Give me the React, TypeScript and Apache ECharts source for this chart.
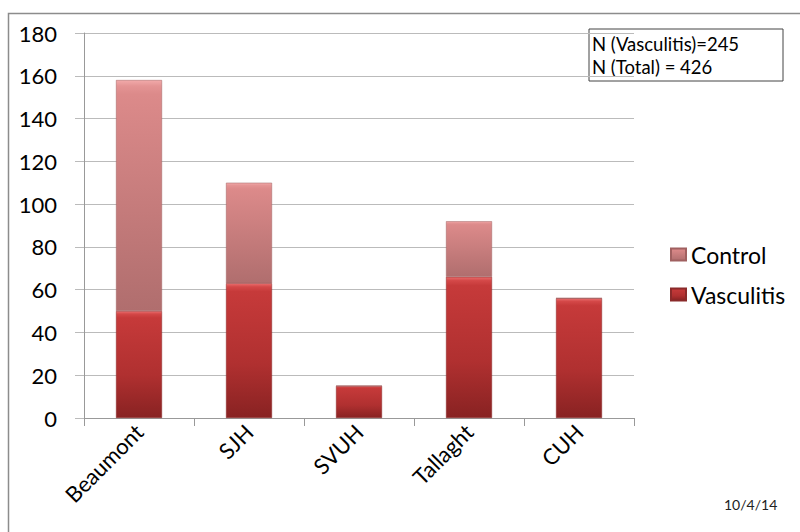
import React, { useEffect, useRef } from "react";
import * as echarts from "echarts";

const categories = ["Beaumont", "SJH", "SVUH", "Tallaght", "CUH"];
const vasculitis = [50, 63, 15, 66, 56];
const control = [108, 47, 0, 26, 0];
const yTicks = { min: 0, max: 180, interval: 20 };
const noteLines = ["N (Vasculitis)=245", "N (Total) = 426"];
const dateLabel = "10/4/14";

const FONT = "Lato, 'Open Sans', sans-serif";

const vascFill = new echarts.graphic.LinearGradient(0, 0, 0, 1, [
  { offset: 0, color: "#ea6e6e" },
  { offset: 0.025, color: "#d44848" },
  { offset: 0.06, color: "#c63a3a" },
  { offset: 0.6, color: "#b03030" },
  { offset: 1, color: "#882222" },
]);
const ctrlFill = new echarts.graphic.LinearGradient(0, 0, 0, 1, [
  { offset: 0, color: "#f2aaaa" },
  { offset: 0.025, color: "#e49494" },
  { offset: 0.06, color: "#dc8a8a" },
  { offset: 1, color: "#b06e6e" },
]);

export default function App() {
  const ref = useRef<HTMLDivElement>(null);
  useEffect(() => {
    if (!ref.current) return;
    const chart = echarts.init(ref.current, null, { renderer: "svg" });
    chart.setOption({
      animation: false,
      backgroundColor: "#ffffff",
      grid: { left: 84, right: 166, top: 33, bottom: 114, containLabel: false },
      legend: {
        data: ["Control", "Vasculitis"],
        orient: "vertical",
        left: 665,
        top: 238,
        itemWidth: 15,
        itemHeight: 12,
        itemGap: 17,
        icon: "rect",
        textStyle: { fontFamily: FONT, fontSize: 23, color: "#000" },
      },
      xAxis: {
        type: "category",
        data: categories,
        axisLine: { lineStyle: { color: "#999", width: 1 } },
        axisTick: { show: true, length: 8, alignWithLabel: false, lineStyle: { color: "#999" } },
        axisLabel: {
          rotate: 45,
          margin: 10,
          fontFamily: FONT,
          fontSize: 22,
          color: "#000",
          interval: 0,
        },
      },
      yAxis: {
        type: "value",
        min: yTicks.min,
        max: yTicks.max,
        interval: yTicks.interval,
        axisLine: { show: true, lineStyle: { color: "#999", width: 1 } },
        axisTick: { show: true, length: 9, lineStyle: { color: "#bbb" } },
        splitLine: { lineStyle: { color: "#bbb", width: 1 } },
        axisLabel: { margin: 27, fontFamily: FONT, fontSize: 22, color: "#000" },
      },
      series: [
        {
          name: "Vasculitis",
          type: "bar",
          stack: "total",
          data: vasculitis,
          barWidth: 46,
          itemStyle: { color: vascFill, borderColor: "#8a2a2a", borderWidth: 0.5 },
        },
        {
          name: "Control",
          type: "bar",
          stack: "total",
          data: control,
          barWidth: 46,
          itemStyle: { color: ctrlFill, borderColor: "#a06060", borderWidth: 0.5 },
        },
      ],
      graphic: [
        {
          type: "rect",
          left: 6,
          top: 11,
          shape: { x: 0, y: 0, width: 800, height: 540 },
          style: { fill: "none", stroke: "#8c8c8c", lineWidth: 1.5 },
          silent: true,
        },
        {
          type: "rect",
          shape: { x: 589, y: 29, width: 194, height: 52 },
          style: { fill: "#fff", stroke: "#444", lineWidth: 1 },
        },
        {
          type: "text",
          x: 592,
          y: 32,
          style: {
            text: noteLines.join("\n"),
            fontFamily: FONT,
            fontSize: 18.5,
            lineHeight: 23,
            fill: "#000",
          },
        },
        {
          type: "text",
          x: 724,
          y: 497,
          style: { text: dateLabel, fontFamily: FONT, fontSize: 14, fill: "#222" },
        },
      ],
    });
    return () => chart.dispose();
  }, []);
  return (
    <div
      ref={ref}
      style={{ position: "fixed", left: 0, top: 0, width: 800, height: 532 }}
    />
  );
}
